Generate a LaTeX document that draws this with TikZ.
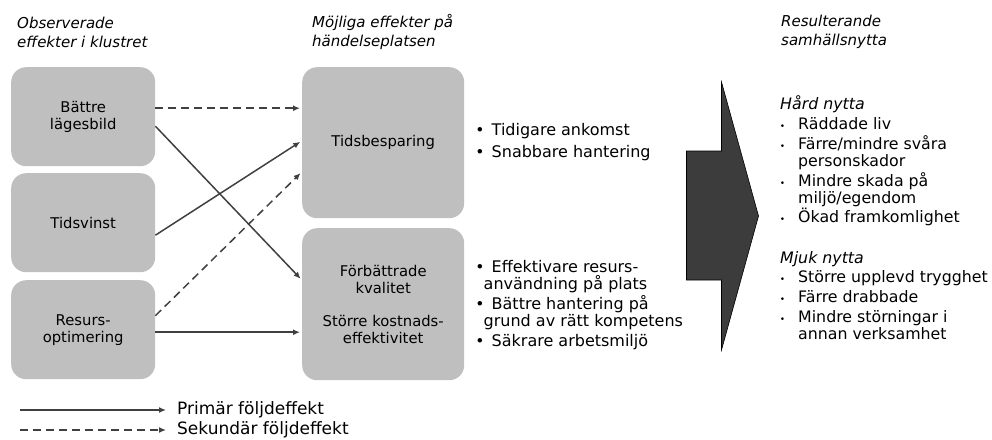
\documentclass[tikz,border=0pt]{standalone}
\usepackage{fontspec}
\setmainfont{DejaVu Sans}
\usetikzlibrary{arrows.meta}
\definecolor{boxgray}{HTML}{BFBFBF}
\definecolor{linegray}{HTML}{404040}
\definecolor{bigarrow}{HTML}{3C3C3C}
\begin{document}
\begin{tikzpicture}[x=1pt,y=-1pt,
  font=\fontsize{14.8}{17}\selectfont,
  box/.style={fill=boxgray, draw=none, rounded corners=15pt, anchor=north west, align=center, inner sep=0pt},
  ln/.style={anchor=west, inner sep=0pt, text height=12pt, text depth=3pt},
  midtxt/.style={ln, font=\fontsize{16}{17}\selectfont},
  rtxt/.style={ln, font=\fontsize{15.8}{17}\selectfont},
  legtxt/.style={ln, font=\fontsize{17}{17}\selectfont},
  bul/.style={inner sep=0pt, text height=12pt, text depth=3pt},
  midbul/.style={bul, font=\fontsize{15.5}{17}\selectfont},
  title/.style={anchor=west, align=left, inner sep=0pt, font=\fontsize{15}{19}\selectfont\itshape},
  conn/.style={draw=linegray, line width=1.5pt, -{Latex[length=7pt,width=6pt]}, shorten >=2pt},
  sec/.style={conn, dash pattern=on 8pt off 5pt}
]
\useasboundingbox (0,0) rectangle (992,439);

% titles
\node[title] (t1) at (17,32) {Observerade\\effekter i klustret};
\node[title] (t2) at (312,32) {Möjliga effekter på\\händelseplatsen};
\node[title] (t3) at (781,32) {Resulterande\\samhällsnytta};

% boxes
\node[box, minimum width=144pt, minimum height=99pt] (b1) at (11,67) {Bättre\\lägesbild};
\node[box, minimum width=144pt, minimum height=99pt] (b2) at (11,173) {Tidsvinst};
\node[box, minimum width=144pt, minimum height=99pt] (b3) at (11,280) {Resurs-\\optimering};
\node[box, minimum width=162pt, minimum height=151pt] (b4) at (302,67) {Tidsbesparing};
\node[box, minimum width=162pt, minimum height=152pt] (b5) at (302,228) {Förbättrade\\kvalitet\\[16pt]Större kostnads-\\effektivitet};

% connectors
\draw[sec]  ([yshift=8.5pt]b1.east)  -- ([yshift=34.5pt]b4.west);
\draw[conn] ([yshift=-9.5pt]b1.east) -- ([yshift=24pt]b5.west);
\draw[conn] ([yshift=-12.5pt]b2.east) -- ([yshift=2pt]b4.west);
\draw[sec]  ([yshift=14pt]b3.east)  -- ([yshift=-29pt]b4.west);
\draw[conn] ([yshift=-2.5pt]b3.east) -- ([yshift=-28pt]b5.west);

% middle bullet lists
\node[midbul] (mb1) at (480,131) {\textbullet};
\node[midtxt] (m1) at (491.5,131) {Tidigare ankomst};
\node[midbul] (mb2) at (480,153) {\textbullet};
\node[midtxt] (m2) at (491.5,153) {Snabbare hantering};

\node[midbul] (mb3) at (480,268) {\textbullet};
\node[midtxt] (m3) at (491.5,268) {Effektivare resurs-};
\node[midtxt] (m4) at (483.5,285) {användning på plats};
\node[midbul] (mb4) at (480,305) {\textbullet};
\node[midtxt] (m5) at (491.5,305) {Bättre hantering på};
\node[midtxt] (m6) at (483.5,322) {grund av rätt kompetens};
\node[midbul] (mb5) at (480,342) {\textbullet};
\node[midtxt] (m7) at (491.5,342) {Säkrare arbetsmiljö};

% big arrow
\draw[fill=bigarrow, draw=black, line width=0.6pt]
  (721.5,82) -- (721.5,151) -- (686.5,151) -- (686.5,280) -- (721.5,280)
  -- (721.5,350) -- (758.5,216) -- cycle;

% right texts
\node[rtxt, font=\fontsize{15.8}{17}\selectfont\itshape] (h1) at (780,105) {Hård nytta};
\foreach \y/\nm in {125/r1,145/r2,182/r3,218/r4,278/r5,298/r6,318/r7}
  \node[bul, font=\fontsize{9}{17}\selectfont] (b\nm) at (782.5,\y) {\textbullet};
\node[rtxt] (r1) at (798,125) {Räddade liv};
\node[rtxt] (r2) at (798,145) {Färre/mindre svåra};
\node[rtxt] (r2b) at (798,162) {personskador};
\node[rtxt] (r3) at (798,182) {Mindre skada på};
\node[rtxt] (r3b) at (798,199) {miljö/egendom};
\node[rtxt] (r4) at (798,218) {Ökad framkomlighet};
\node[rtxt, font=\fontsize{15.8}{17}\selectfont\itshape] (h2) at (780,259) {Mjuk nytta};
\node[rtxt] (r5) at (798,278) {Större upplevd trygghet};
\node[rtxt] (r6) at (798,298) {Färre drabbade};
\node[rtxt] (r7) at (798,318) {Mindre störningar i};
\node[rtxt] (r7b) at (798,335) {annan verksamhet};

% legend
\coordinate (l1) at (20,410);
\coordinate (l2) at (20,430);
\node[legtxt] (lt1) at (177,410) {Primär följdeffekt};
\node[legtxt] (lt2) at (177,430) {Sekundär följdeffekt};
\draw[conn, shorten >=11pt] (l1) -- (lt1.west);
\draw[sec, shorten >=11pt] (l2) -- (lt2.west);
\end{tikzpicture}
\end{document}
